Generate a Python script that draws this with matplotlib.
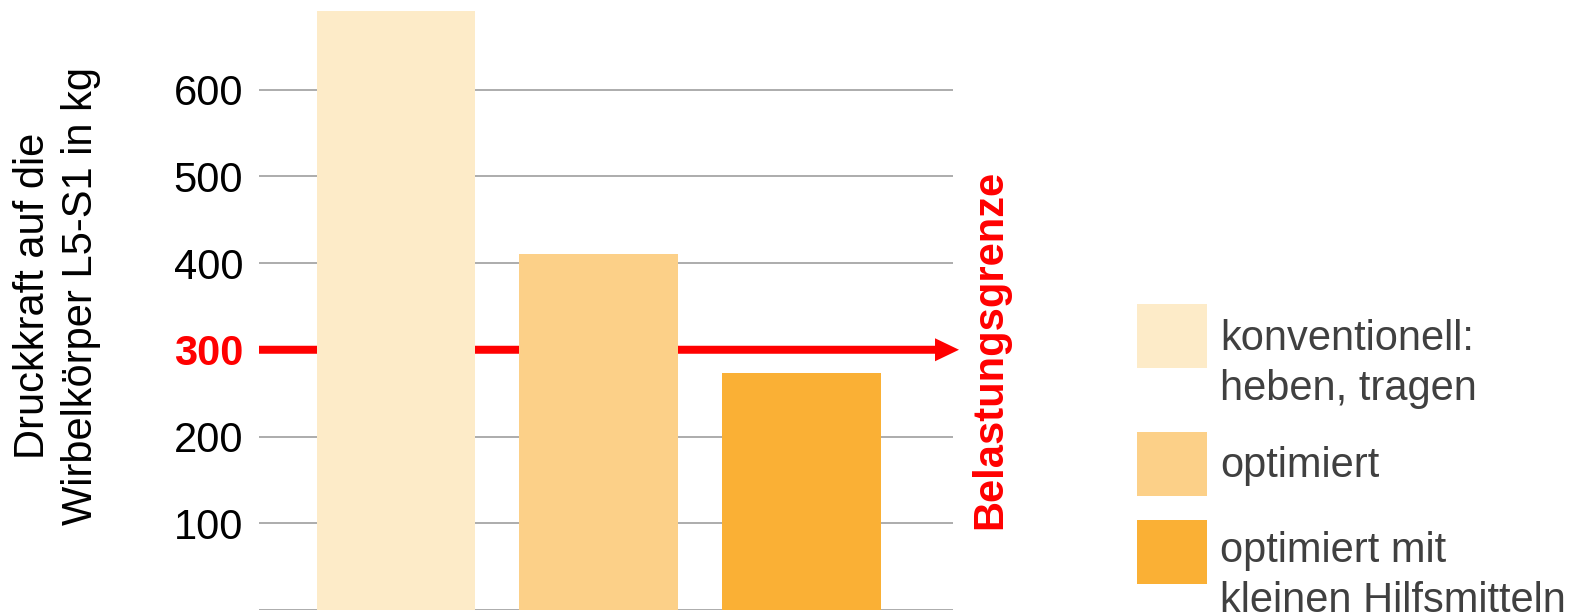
import matplotlib
matplotlib.use("Agg")
import matplotlib.pyplot as plt
from matplotlib.patches import Rectangle

plt.rcParams['font.family'] = ['Liberation Sans', 'DejaVu Sans']

# ---- data ----
categories = ["konventionell:\nheben, tragen", "optimiert", "optimiert mit\nkleinen Hilfsmitteln"]
values = [690, 410, 273]
bar_colors = ["#FDEBC8", "#FCD088", "#FAB035"]
ytick_values = [0, 100, 200, 300, 400, 500, 600]
ytick_labels = ["", "100", "200", "300", "400", "500", "600"]
limit_value = 300
limit_label = "Belastungsgrenze"
ylabel = "Druckkraft auf die\nWirbelkörper L5-S1 in kg"

W, H = 1581, 612
fig = plt.figure(figsize=(W / 100, H / 100), dpi=100)

# axes in pixel layout
left_px, right_px, top_px, bottom_px = 259, 953, 0, 610
ax = fig.add_axes([left_px / W, 1 - bottom_px / H, (right_px - left_px) / W, (bottom_px - top_px) / H])

x = list(range(len(categories)))
ax.bar(x, values, width=0.783, color=bar_colors, zorder=3)

ax.set_xlim(-0.675, 2.746)
ax.set_ylim(0, 703.2)

ax.set_yticks(ytick_values)
ax.set_yticklabels(ytick_labels)
ax.tick_params(axis='y', length=0, pad=11.5, labelsize=30, labelcolor='black')
ax.set_xticks([])
for s in ax.spines.values():
    s.set_visible(False)
ax.yaxis.grid(True, color='#a6a6a6', linewidth=1.3, zorder=0)
ax.set_axisbelow(True)

for lbl, v in zip(ax.get_yticklabels(), ytick_values):
    if v == limit_value:
        lbl.set_color('red')
        lbl.set_fontweight('bold')

# limit arrow (behind bars)
px_per_x = 203.0
px_per_y = 0.8675
x0 = -0.675
x_tip = 2.746 + 6 / px_per_x
ax.arrow(x0, limit_value, x_tip - x0, 0, width=8 / px_per_y, head_width=23 / px_per_y,
         head_length=24 / px_per_x, length_includes_head=True, color='red', lw=0,
         zorder=2, clip_on=False)

ax.text(2.746 + 37 / px_per_x, limit_value, limit_label, rotation=90, color='red',
        fontweight='bold', fontsize=30, ha='center', va='center', clip_on=False)

ax.set_ylabel(ylabel, fontsize=30, color='black', ha='center', va='center',
              multialignment='center', linespacing=1.25)
ax.yaxis.set_label_coords((57 - left_px) / (right_px - left_px), 0.5 - (296 - 305) / 610)

# legend drawn manually
patch_tops = [304, 432, 520]
text_baselines = [[350, 400], [477], [562, 612]]
for color, label, ptop, bases in zip(bar_colors, categories, patch_tops, text_baselines):
    fig.add_artist(Rectangle((1137 / W, 1 - (ptop + 64) / H), 70 / W, 64 / H,
                             transform=fig.transFigure, facecolor=color, edgecolor='none'))
    for line, b in zip(label.split("\n"), bases):
        fig.text(1220 / W, 1 - b / H, line, fontsize=30, color='#404040',
                 ha='left', va='baseline')

fig.savefig("out.png", dpi=100)
